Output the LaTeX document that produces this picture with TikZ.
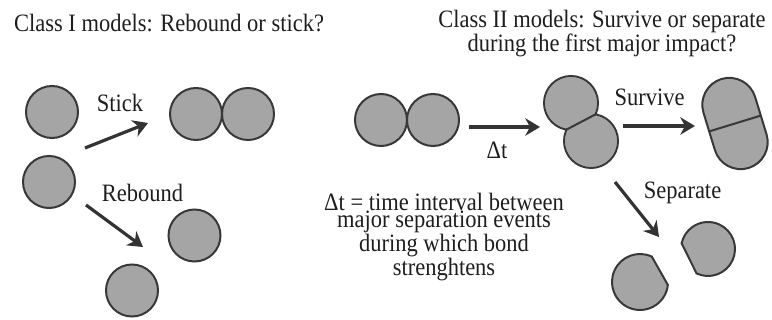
\documentclass[tikz,border=0pt]{standalone}
\usepackage{fontspec}
\setmainfont[FakeStretch=0.9]{Liberation Serif}
\usetikzlibrary{arrows.meta,calc}
\definecolor{ink}{HTML}{1E1E1E}
\definecolor{arrowc}{HTML}{333333}
\definecolor{grainc}{HTML}{A5A5A5}
\definecolor{rim}{HTML}{383838}
\begin{document}
\begin{tikzpicture}[x=0.75pt,y=-0.75pt,
  txt/.style={font=\fontsize{18.75pt}{14.6pt}\selectfont, text=ink, inner sep=0pt, anchor=base},
  note/.style={font=\fontsize{18.75pt}{12.8pt}\selectfont, text=ink, inner sep=0pt, anchor=base, align=center},
  grain/.style={fill=grainc, draw=rim, line width=1.5pt},
  arr/.style={draw=arrowc, line width=2.4pt, -{Stealth[length=11pt,width=13pt,inset=3.5pt]}}]
\useasboundingbox (0,0) rectangle (772,320);

% titles (multi-line nodes: base anchor = baseline of last line)
\node[txt] (t1) at (169,32) {Class I models: Rebound or stick?};
\node[txt, align=center] (t2) at (602,51.5) {Class II models: Survive or separate\\during the first major impact?};

% class I particles
\path[grain] (52,112) circle[radius=26];
\path[grain] (49,182) circle[radius=26];
\path[grain] (196,114) circle[radius=26];
\path[grain] (248,114) circle[radius=26];
\path[grain] (194.5,235.5) circle[radius=26];
\path[grain] (132,290.5) circle[radius=26];

% class I arrows
\coordinate (stickA) at (85,148);  \coordinate (stickB) at (148,123);
\coordinate (rebA) at (86,205);    \coordinate (rebB) at (143,247);
\draw[arr] (stickA) -- (stickB);
\draw[arr] (rebA) -- (rebB);
\node[txt] (lstick) at (120,112) {Stick};
\node[txt] (lreb) at (142.5,202) {Rebound};

% class II: initial pair
\path[grain] (381,120) circle[radius=26];
\path[grain] (433,120) circle[radius=26];

% tilted pair
\path[grain] (571,103) circle[radius=27] (591,141) circle[radius=27];
\fill[grainc] (571,103) circle[radius=25.8] (591,141) circle[radius=25.8];
\draw[rim, line width=1.5pt] (566.5,129.6) -- (595.5,114.4);

% capsule
\begin{scope}[shift={(735,123.5)}, rotate=17]
  \path[grain, rounded corners=20.25pt] (-27,-46.5) rectangle (27,46.5);
  \draw[rim, line width=1.5pt] (-27,0) -- (27,0);
\end{scope}

% fragments
\path[grain] ($(640,282)+(-65:28)$) arc[start angle=-65, end angle=-354, radius=28] -- cycle;
\path[grain] ($(708,249)+(115:27)$) arc[start angle=115, end angle=-168, radius=27] -- cycle;

% class II arrows
\coordinate (dtA) at (469,127);   \coordinate (dtB) at (540,127);
\coordinate (survA) at (623,126); \coordinate (survB) at (695,126);
\coordinate (sepA) at (615,182);  \coordinate (sepB) at (659,237);
\draw[arr] (dtA) -- (dtB);
\draw[arr] (survA) -- (survB);
\draw[arr] (sepA) -- (sepB);
\node[txt] (ldt) at (497,158.5) {Δt};
\node[txt] (lsurv) at (649.5,105.5) {Survive};
\node[txt] (lsep) at (682.5,199) {Separate};

% definition
\node[note] (def) at (444,275.5) {Δt = time interval between\\major separation events\\during which bond\\strenghtens};
\end{tikzpicture}
\end{document}
